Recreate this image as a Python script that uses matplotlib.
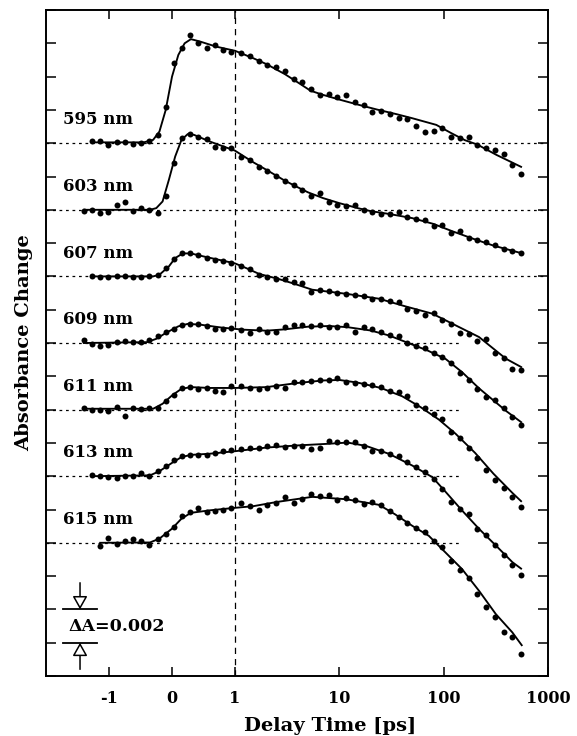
import numpy as np
import matplotlib
matplotlib.use('Agg')
import matplotlib.pyplot as plt

plt.rcParams['font.family'] = ['DejaVu Serif']
plt.rcParams['font.weight'] = 'bold'

nan = np.nan

# delay times of the measured points [ps]
delay = [-1.40, -1.27, -1.14, -1.01, -0.88, -0.75, -0.62, -0.49, -0.36, -0.23,
         -0.10, 0.03, 0.16, 0.29, 0.42, 0.55, 0.68, 0.81, 0.94,
         1.14, 1.39, 1.68, 2.04, 2.47, 3.0, 3.64, 4.41, 5.35, 6.49, 7.88, 9.56,
         11.6, 14.1, 17.1, 20.7, 25.1, 30.5, 37.0, 44.8, 54.4, 66.0, 80.1, 97.1,
         118, 143, 173, 210, 255, 309, 375, 455, 552]

labels = ['595 nm', '603 nm', '607 nm', '609 nm', '611 nm', '613 nm', '615 nm']
offsets = [0.032, 0.028, 0.024, 0.020, 0.016, 0.012, 0.008]   # baseline of each trace
base_end = [1000, 1000, 1000, 150, 150, 150, 150]              # where the dotted zero line stops

# absorbance change relative to baseline, units of 1e-3
d595 = [nan, 0.16, 0.16, -0.12, 0.08, 0.08, -0.04, 0.02, 0.16, 0.52, 2.2, 4.8, 5.7, 6.5, 6.0, 5.7, 5.9, 5.6, 5.5,
        5.4, 5.22, 4.96, 4.72, 4.56, 4.32, 3.88, 3.66, 3.26, 2.92, 2.96, 2.76, 2.88, 2.46, 2.32, 1.88, 1.92, 1.78,
        1.52, 1.46, 1.02, 0.68, 0.72, 0.92, 0.38, 0.32, 0.36, -0.12, -0.28, -0.38, -0.64, -1.28, -1.82]
d603 = [-0.1, -0.04, -0.2, -0.16, 0.3, 0.44, -0.1, 0.1, 0.0, -0.2, 0.8, 2.8, 4.3, 4.54, 4.4, 4.24, 3.8, 3.7, 3.7,
        3.2, 3.0, 2.6, 2.34, 2.04, 1.7, 1.5, 1.16, 0.84, 1.0, 0.44, 0.3, 0.24, 0.3, -0.04, -0.16, -0.26, -0.24,
        -0.16, -0.46, -0.56, -0.6, -0.96, -0.9, -1.4, -1.3, -1.7, -1.8, -1.96, -2.1, -2.36, -2.46, -2.6]
d607 = [nan, 0.04, -0.04, -0.04, 0.0, 0.0, -0.04, -0.04, 0.04, 0.1, 0.5, 1.06, 1.38, 1.4, 1.26, 1.12, 1.0, 0.94, 0.8,
        0.62, 0.42, 0.1, -0.04, -0.18, -0.14, -0.34, -0.38, -0.94, -0.84, -0.88, -1.0, -1.08, -1.1, -1.2, -1.34,
        -1.34, -1.48, -1.54, -1.94, -2.1, -2.3, -2.2, -2.6, -2.88, -3.4, -3.44, -3.9, -3.78, -4.6, -4.9, -5.54, -5.64]
d609 = [0.18, -0.06, -0.18, -0.1, 0.06, 0.14, 0.04, 0.08, 0.18, 0.4, 0.66, 0.85, 1.08, 1.16, 1.14, 1.0, 0.84, 0.86, 0.88,
        0.8, 0.62, 0.86, 0.68, 0.68, 0.94, 1.06, 1.1, 1.04, 1.08, 0.94, 0.94, 1.08, 0.68, 0.94, 0.82, 0.68, 0.48,
        0.42, -0.02, -0.18, -0.32, -0.58, -0.82, -1.22, -1.82, -2.22, -2.78, -3.22, -3.42, -3.92, -4.46, -4.92]
d611 = [0.08, -0.02, -0.02, -0.08, 0.18, -0.36, 0.08, 0.04, 0.08, 0.12, 0.5, 0.9, 1.3, 1.34, 1.24, 1.28, 1.1, 1.04, 1.4,
        1.4, 1.28, 1.26, 1.32, 1.44, 1.28, 1.68, 1.66, 1.7, 1.78, 1.76, 1.92, 1.68, 1.58, 1.56, 1.48, 1.38, 1.12,
        1.08, 0.84, 0.28, 0.08, -0.28, -0.56, -1.32, -1.68, -2.32, -2.92, -3.62, -4.2, -4.72, -5.22, -5.84]
d613 = [nan, 0.08, 0.0, -0.06, -0.12, 0.0, 0.04, 0.2, 0.0, 0.3, 0.62, 0.98, 1.22, 1.3, 1.3, 1.26, 1.4, 1.5, 1.56,
        1.62, 1.68, 1.7, 1.8, 1.9, 1.78, 1.84, 1.82, 1.64, 1.68, 2.14, 2.08, 2.06, 2.04, 1.84, 1.54, 1.52, 1.34,
        1.2, 0.84, 0.54, 0.24, -0.16, -0.76, -1.52, -1.96, -2.26, -3.16, -3.56, -4.16, -4.76, -5.36, -5.92]
d615 = [nan, nan, -0.18, 0.28, -0.08, 0.08, 0.22, 0.08, -0.12, 0.22, 0.52, 0.96, 1.62, 1.82, 2.12, 1.82, 1.92, 1.96, 2.08,
        2.4, 2.2, 2.0, 2.3, 2.42, 2.76, 2.42, 2.62, 2.92, 2.82, 2.88, 2.56, 2.68, 2.56, 2.36, 2.48, 2.3, 1.88,
        1.52, 1.16, 0.88, 0.62, 0.12, -0.28, -1.08, -1.64, -2.12, -3.08, -3.88, -4.48, -5.38, -5.68, -6.68]

# fitted curves (delay, value)
f595_t = [-1.27, -0.45, -0.3, -0.2, -0.1, 0.0, 0.1, 0.2, 0.3, 0.45, 0.7, 1.0, 1.5, 2.0, 3, 4, 5.3, 7, 10, 15,
          23, 35, 50, 85, 117, 160, 210, 320, 552]
f595_v = [0.05, 0.05, 0.2, 0.7, 2.0, 4.0, 5.3, 6.0, 6.25, 6.1, 5.8, 5.55, 5.1, 4.75, 4.15, 3.65, 3.15, 2.9, 2.62,
          2.32, 2.02, 1.75, 1.5, 1.1, 0.62, 0.18, -0.08, -0.7, -1.42]
f603_t = [-1.4, -0.35, -0.25, -0.15, -0.05, 0.05, 0.15, 0.25, 0.35, 0.6, 1.0, 1.5, 2, 3, 4, 5, 7, 10, 15, 20,
          30, 50, 80, 120, 200, 300, 552]
f603_v = [0.0, 0.0, 0.1, 0.5, 1.8, 3.2, 4.2, 4.55, 4.5, 4.1, 3.55, 2.85, 2.4, 1.75, 1.35, 1.05, 0.7, 0.4, 0.1,
          -0.08, -0.25, -0.5, -0.85, -1.28, -1.78, -2.15, -2.6]
f607_t = [-1.27, -0.3, -0.2, -0.05, 0.05, 0.17, 0.3, 0.5, 0.8, 1.0, 1.3, 1.7, 2.6, 3.6, 5.5, 11.5, 24, 43, 78,
          121, 218, 394, 552]
f607_v = [0.0, 0.0, 0.1, 0.6, 1.1, 1.38, 1.38, 1.2, 0.95, 0.78, 0.48, 0.15, -0.15, -0.42, -0.8, -1.04, -1.34,
          -1.8, -2.24, -2.84, -3.64, -4.94, -5.44]
f609_t = [-1.4, -0.4, -0.25, -0.1, 0.1, 0.25, 0.45, 0.8, 1.2, 2, 3, 5, 8, 12, 20, 30, 48, 70, 104, 150, 218,
          400, 552]
f609_v = [0.0, 0.05, 0.25, 0.6, 1.0, 1.15, 1.1, 0.92, 0.8, 0.74, 0.82, 0.98, 1.02, 0.95, 0.75, 0.45, -0.05,
          -0.45, -0.95, -1.75, -2.72, -4.1, -4.75]
f611_t = [-1.4, -0.3, -0.15, 0.0, 0.15, 0.3, 0.6, 1.0, 2, 4, 7, 10, 15, 25, 40, 60, 90, 130, 200, 300, 455, 552]
f611_v = [0.05, 0.05, 0.35, 0.85, 1.25, 1.35, 1.3, 1.3, 1.35, 1.6, 1.75, 1.78, 1.62, 1.3, 0.8, 0.15, -0.6,
          -1.45, -2.6, -3.85, -5.0, -5.5]
f613_t = [-1.27, -0.35, -0.2, 0.0, 0.15, 0.3, 0.6, 1.0, 2, 4, 8, 12, 18, 30, 50, 78, 105, 150, 218, 316, 455, 552]
f613_v = [0.0, 0.05, 0.3, 0.8, 1.15, 1.28, 1.35, 1.5, 1.72, 1.85, 1.95, 2.02, 1.82, 1.34, 0.64, -0.06, -0.96,
          -2.06, -3.16, -4.16, -5.16, -5.55]
f615_t = [-1.14, -0.35, -0.2, 0.0, 0.15, 0.3, 0.6, 1.0, 1.5, 2.5, 5.5, 11.5, 24, 34, 50, 72, 104, 150, 218,
          316, 455, 560]
f615_v = [0.0, 0.02, 0.25, 0.85, 1.45, 1.8, 1.95, 2.1, 2.2, 2.45, 2.76, 2.62, 2.28, 1.72, 1.02, 0.42, -0.58,
          -1.58, -2.88, -4.28, -5.38, -6.15]

dots = [d595, d603, d607, d609, d611, d613, d615]
fits = [(f595_t, f595_v), (f603_t, f603_v), (f607_t, f607_v), (f609_t, f609_v),
        (f611_t, f611_v), (f613_t, f613_v), (f615_t, f615_v)]

# axis: linear up to 1 ps, logarithmic beyond
K = 104.3 / 63.0


def fwd(x):
    x = np.asarray(x, dtype=float)
    return np.where(x > 1, 1 + K * np.log10(np.maximum(x, 1)), x)


def inv(y):
    y = np.asarray(y, dtype=float)
    return np.where(y > 1, 10 ** ((np.maximum(y, 1) - 1) / K), y)


fig = plt.figure(figsize=(5.77, 7.36), dpi=100)
ax = fig.add_axes([46 / 577, 60 / 736, 502 / 577, 666 / 736])
ax.set_xscale('function', functions=(fwd, inv))
ax.set_xlim(-2, 1000)
ax.set_ylim(0, 0.040)

ax.axvline(1, color='k', lw=0.9, dashes=(5, 4))

for lab, off, end, d, (ft, fv) in zip(labels, offsets, base_end, dots, fits):
    ax.plot([-2, end], [off, off], color='k', lw=0.9, dashes=(2.2, 3))
    ax.plot(ft, off + np.array(fv) * 1e-3, color='k', lw=1.35)
    ax.plot(delay, off + np.array(d) * 1e-3, 'o', color='k', ms=4.3, mew=0)
    ax.text(-1.73, off + 1.4e-3, lab, fontsize=12, fontweight='bold', ha='left', va='center')

# scale bar
ax.plot([-1.73, -1.19], [0.004, 0.004], color='k', lw=1.3)
ax.plot([-1.73, -1.19], [0.002, 0.002], color='k', lw=1.3)
arr = dict(arrowstyle='-|>,head_length=0.8,head_width=0.45', fc='white', ec='black', lw=1.1,
           shrinkA=0, shrinkB=0)
ax.annotate('', xy=(-1.46, 0.004), xytext=(-1.46, 0.0056), arrowprops=arr)
ax.annotate('', xy=(-1.46, 0.002), xytext=(-1.46, 0.0004), arrowprops=arr)
ax.text(-1.65, 0.00296, 'ΔA=0.002', fontsize=12.5, fontweight='bold', ha='left', va='center')

ax.set_xticks([-1, 0, 1, 10, 100, 1000])
ax.set_xticklabels(['-1', '0', '1', '10', '100', '1000'])
ax.xaxis.set_minor_locator(matplotlib.ticker.NullLocator())
ax.set_yticks(np.arange(0, 0.0401, 0.002))
ax.set_yticklabels([])
ax.tick_params(axis='x', direction='in', top=True, length=6.5, width=1.1, pad=10, labelsize=11.5)
ax.tick_params(axis='y', direction='in', right=True, length=7, width=1.1)
for s in ax.spines.values():
    s.set_linewidth(1.4)

ax.set_xlabel('Delay Time [ps]', fontsize=14, fontweight='bold')
ax.xaxis.set_label_coords(0.566, -0.062)
ax.set_ylabel('Absorbance Change', fontsize=14, fontweight='bold', va='center')
ax.yaxis.set_label_coords(-0.044, 0.5)

fig.savefig('out.png', dpi=100)
